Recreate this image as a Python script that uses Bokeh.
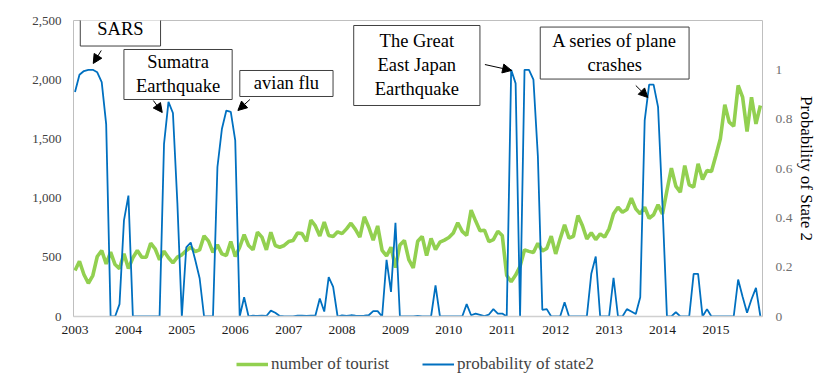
import numpy as np
from bokeh.plotting import figure
from bokeh.layouts import column
from bokeh.models import (Range1d, LinearAxis, FixedTicker, NumeralTickFormatter,
                          CustomJSTickFormatter, Label, Arrow, NormalHead, Legend, LegendItem)
from bokeh.embed import file_html
from bokeh.resources import INLINE

# ---- data (monthly, Jan 2003 .. Nov 2015) ----
years = ["2003", "2004", "2005", "2006", "2007", "2008", "2009",
         "2010", "2011", "2012", "2013", "2014", "2015"]

tourists = [
    388, 467, 355, 281, 346, 507, 557, 445, 543, 439,
    405, 530, 405, 496, 557, 501, 501, 619, 572, 479,
    552, 496, 453, 501, 521, 557, 585, 549, 563, 681,
    636, 543, 605, 529, 515, 633, 507, 585, 692, 600,
    563, 712, 670, 563, 712, 600, 585, 600, 633, 642,
    705, 700, 635, 815, 765, 680, 797, 684, 676, 715,
    700, 740, 788, 736, 670, 842, 754, 645, 765, 558,
    511, 585, 412, 604, 642, 480, 410, 635, 676, 515,
    660, 565, 628, 645, 667, 705, 792, 719, 684, 898,
    808, 724, 729, 632, 649, 720, 684, 346, 294, 350,
    424, 563, 550, 540, 618, 553, 575, 678, 529, 656,
    774, 662, 678, 853, 769, 656, 707, 650, 698, 670,
    740, 867, 923, 881, 904, 999, 909, 867, 923, 830,
    859, 943, 867, 1064, 1253, 1101, 1050, 1275, 1112, 1092,
    1290, 1157, 1233, 1225, 1360, 1501, 1788, 1641, 1607, 1951,
    1852, 1563, 1852, 1627, 1782,
]

prob_state2 = [
    0.91, 0.98, 0.995, 1.0, 1.0, 0.99, 0.95, 0.78, 0, 0,
    0.05, 0.39, 0.49, 0, 0, 0, 0, 0, 0, 0,
    0.70, 0.87, 0.825, 0.46, 0, 0.28, 0.30, 0.23, 0.155, 0,
    0, 0, 0.606, 0.76, 0.835, 0.83, 0.714, 0, 0.078, 0,
    0.003, 0.002, 0.003, 0.002, 0.024, 0.015, 0.002, 0, 0, 0,
    0.003, 0.003, 0.002, 0.003, 0.003, 0.073, 0.02, 0.16, 0.12, 0,
    0.005, 0.002, 0.005, 0.003, 0.002, 0.003, 0.005, 0.022, 0.022, 0,
    0.23, 0.10, 0.38, 0, 0, 0, 0, 0.002, 0, 0,
    0, 0.126, 0, 0, 0, 0, 0, 0, 0.05, 0.005,
    0.012, 0.007, 0.002, 0.008, 0.03, 0.012, 0.012, 0, 1.0, 0.945,
    0, 1.0, 1.0, 0.96, 0.65, 0.027, 0.03, 0, 0, 0,
    0.058, 0, 0, 0, 0, 0, 0.173, 0.243, 0, 0,
    0, 0.157, 0, 0, 0.03, 0.02, 0.01, 0.078, 0.795, 0.94,
    0.94, 0.85, 0.45, 0, 0, 0.018, 0, 0, 0, 0.173,
    0.173, 0, 0.03, 0, 0, 0, 0, 0, 0, 0.15,
    0.08, 0.015, 0.07, 0.116, 0,
]

months = np.arange(len(tourists))

# annotations: text, box centre (month, tourists), padding (x, y), arrow start/end (month, tourists)
events = [
    ("SARS", 10.2, 2428, 17, 7, (5.9, 2247), (4.1, 2137)),
    ("Sumatra\nEarthquake", 23.15, 2044, 12, 3, (17.6, 1824), (19.6, 1723)),
    ("avian flu", 47.5, 1968, 14, 3, (39.3, 1833), (36.6, 1740)),
    ("The Great\nEast Japan\nEarthquake", 76.8, 2120, 21, 6, (92.1, 2128), (98.1, 2078)),
    ("A series of plane\ncrashes", 121.25, 2225, 12, 4, (126.0, 1951), (128.7, 1850)),
]

series_names = ["number of tourist", "probability of state2"]
left_title = "Number of tourist(Unit : thousands)"
right_title = "Probability of State 2"

FONT = "Liberation Serif"
GREEN = "#92D050"
BLUE = "#0070C0"

p = figure(width=819, height=342, output_backend="svg", toolbar_location=None,
           x_range=Range1d(-0.34, 154.47), y_range=Range1d(0, 2500),
           min_border_left=73, min_border_right=54, min_border_top=20, min_border_bottom=26)
p.extra_y_ranges = {"prob": Range1d(0, 1.2)}
p.xgrid.visible = False
p.ygrid.visible = False
p.outline_line_color = "#BFBFBF"
p.outline_line_width = 1

g = p.line(months, tourists, line_color=GREEN, line_width=3.6)
b = p.line(months, prob_state2, line_color=BLUE, line_width=1.8, y_range_name="prob")

# bottom axis
xa = p.xaxis[0]
xa.ticker = FixedTicker(ticks=[12 * k for k in range(len(years))])
xa.major_label_overrides = {12 * k: yv for k, yv in enumerate(years)}
xa.major_tick_out = 0
xa.major_tick_in = 0
xa.minor_tick_out = 0
xa.minor_tick_in = 0
xa.axis_line_color = "#D0D0D0"
xa.axis_line_width = 1.5
xa.major_label_text_font = FONT
xa.major_label_text_font_size = "13.5px"
xa.major_label_text_color = "#1a1a1a"
xa.major_label_standoff = 9

# left axis
ya = p.yaxis[0]
ya.ticker = FixedTicker(ticks=[0, 500, 1000, 1500, 2000, 2500])
ya.formatter = NumeralTickFormatter(format="0,0")
ya.major_tick_out = 0
ya.major_tick_in = 0
ya.minor_tick_out = 0
ya.minor_tick_in = 0
ya.axis_line_color = None
ya.major_label_text_font = FONT
ya.major_label_text_font_size = "13px"
ya.major_label_text_color = "#404040"
ya.major_label_standoff = 12

# left axis title as a rotated label (placed lower than centre, as in the reference)
p.add_layout(Label(x=-12.2, y=1064, text=left_title, angle=90, angle_units="deg",
                   text_align="center", text_baseline="middle",
                   text_font=FONT, text_font_size="18px", text_color="black"))

# right axis
ra = LinearAxis(y_range_name="prob")
ra.ticker = FixedTicker(ticks=[0, 0.2, 0.4, 0.6, 0.8, 1.0])
ra.formatter = CustomJSTickFormatter(code="return String(Math.round(tick*10)/10)")
ra.major_tick_out = 0
ra.major_tick_in = 0
ra.minor_tick_out = 0
ra.minor_tick_in = 0
ra.axis_line_color = None
ra.major_label_text_font = FONT
ra.major_label_text_font_size = "13.5px"
ra.major_label_text_color = "#707070"
ra.major_label_standoff = 13
ra.axis_label = right_title
ra.axis_label_text_font = FONT
ra.axis_label_text_font_size = "17px"
ra.axis_label_text_font_style = "normal"
ra.axis_label_text_color = "black"
ra.axis_label_text_line_height = 1.0
ra.axis_label_standoff = 2
p.add_layout(ra, "right")

# annotation boxes and arrows
for text, cx, cy, px, py, (xs, ys), (xe, ye) in events:
    p.add_layout(Label(x=cx, y=cy, text=text, text_align="center", text_baseline="middle",
                       text_font=FONT, text_font_size="18.5px", text_color="black",
                       border_line_color="#404040", border_line_width=1,
                       background_fill_color="white", padding=(px, py), level="overlay"))
    p.add_layout(Arrow(x_start=xs, y_start=ys, x_end=xe, y_end=ye,
                       line_color="black", line_width=1,
                       end=NormalHead(size=9, fill_color="black", line_color="black", line_width=1)))

# ---- legend strip below the chart (proxy renderers lie outside its visible range) ----
lg = figure(width=819, height=34, output_backend="svg", toolbar_location=None,
            x_range=Range1d(-3, -2), y_range=Range1d(0, 1),
            x_axis_location=None, y_axis_location=None,
            min_border=0, outline_line_color=None)
lg.xgrid.visible = False
lg.ygrid.visible = False
lg_g = lg.line(months, tourists, line_color=GREEN, line_width=3.6)
lg_b = lg.line(months, prob_state2, line_color=BLUE, line_width=1.8)
legend = Legend(items=[LegendItem(label=series_names[0], renderers=[lg_g]),
                       LegendItem(label=series_names[1], renderers=[lg_b])],
                orientation="horizontal", location=(163, 2),
                label_text_font=FONT, label_text_font_size="17px",
                glyph_width=32, glyph_height=20, label_height=20, label_standoff=3,
                spacing=33, padding=0, margin=0,
                background_fill_alpha=0, border_line_color=None)
lg.add_layout(legend)

layout = column(p, lg, spacing=0)
open("out.html", "w").write(file_html(layout, INLINE))
